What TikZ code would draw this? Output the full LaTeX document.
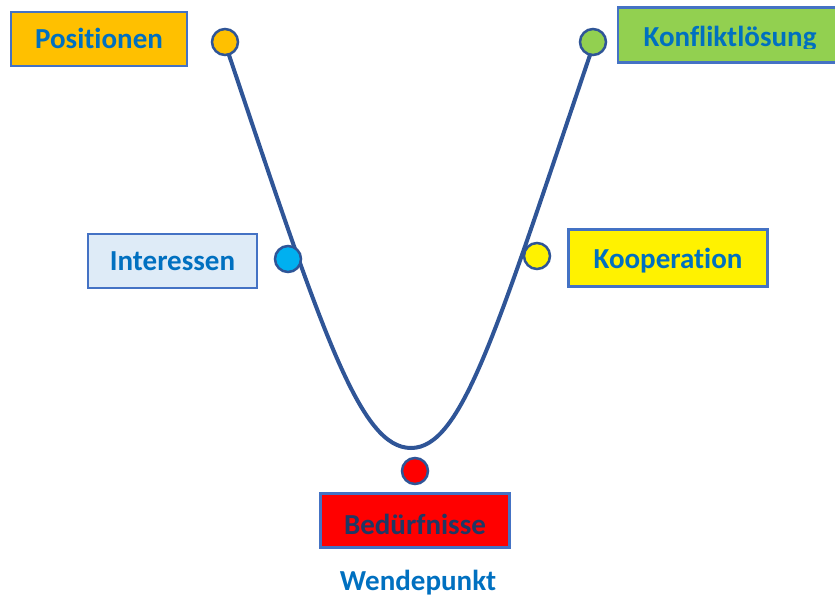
\documentclass[tikz,border=0pt]{standalone}
\usepackage{fontspec}
\setmainfont{Carlito}[Ligatures=NoCommon]
\definecolor{txtblue}{HTML}{0070C0}
\definecolor{bordblue}{HTML}{4472C4}
\definecolor{curveblue}{HTML}{2F5597}
\definecolor{orangeF}{HTML}{FFC000}
\definecolor{greenF}{HTML}{92D050}
\definecolor{lightF}{HTML}{DEEBF7}
\definecolor{cyanF}{HTML}{00B0F0}
\definecolor{navyT}{HTML}{1F3864}
\tikzset{
  lbl/.style={font=\bfseries\fontsize{29}{33}\selectfont, text=txtblue},
  lbox/.style={lbl, draw=bordblue, line width=2.5pt, inner sep=0pt},
  dot/.style={circle, draw=curveblue, line width=2.5pt, minimum size=26pt, inner sep=0pt},
  curve/.style={draw=curveblue, line width=4pt}
}
\begin{document}
\begin{tikzpicture}[x=1pt,y=-1pt]
\useasboundingbox (0,0) rectangle (835,601);
% curve
\coordinate (top1) at (228,52);
\coordinate (bot) at (411,448);
\coordinate (top2) at (591,52);
\draw[curve] (top1) .. controls (323,335) and (360,448) .. (bot)
             .. controls (462,448) and (496,332) .. (top2);
% boxes
\node[lbox, fill=orangeF, minimum width=176pt, minimum height=54pt, text height=23pt, text depth=4pt] (pos) at (99,39) {Positionen};
\node[lbox, fill=greenF, minimum width=232pt, minimum height=55pt] (konf) at (734,35) {};
\begin{scope}
\clip (600,0) rectangle (835,48.5);
\node[lbl, anchor=base] (konft) at (730,47) {Konfliktlösung};
\end{scope}
\node[lbox, line width=1.5pt, fill=lightF, minimum width=169pt, minimum height=54pt] (int) at (172.5,261) {Interessen};
\node[lbox, fill=yellow, minimum width=199pt, minimum height=57pt, text height=22pt, text depth=0pt] (koop) at (668,258) {Kooperation};
\node[lbox, fill=red, text=navyT, minimum width=189pt, minimum height=54pt, text height=28pt, text depth=0pt] (bed) at (415,520.5) {Bedürfnisse};
\node[lbl] (wende) at (418,583) {Wendepunkt};
% dots
\node[dot, fill=orangeF] (d1) at (225,42) {};
\node[dot, fill=greenF] (d2) at (593,42) {};
\node[dot, fill=cyanF] (d3) at (288,259) {};
\node[dot, fill=yellow] (d4) at (537,256) {};
\node[dot, fill=red] (d5) at (415,471) {};
\end{tikzpicture}
\end{document}
